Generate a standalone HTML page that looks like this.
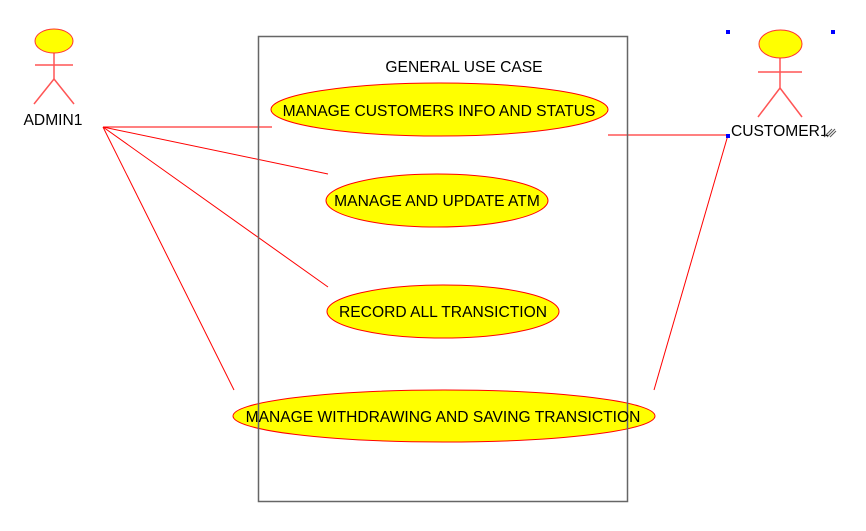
<!DOCTYPE html>
<html><head><style>
html,body{margin:0;padding:0;background:#fff;}
svg{display:block;}
text{font-family:"Liberation Sans",Arial,sans-serif;font-size:15.6px;fill:#000;}
</style></head><body>
<svg width="866" height="531" viewBox="0 0 866 531" xmlns="http://www.w3.org/2000/svg">
<g stroke="#f00" stroke-width="1" fill="none">
<line x1="103" y1="127" x2="272" y2="127"/>
<line x1="103" y1="127" x2="328" y2="174"/>
<line x1="103" y1="127" x2="328" y2="287"/>
<line x1="103" y1="127" x2="234" y2="390"/>
<line x1="608" y1="135" x2="728" y2="135"/>
<line x1="728" y1="135" x2="654" y2="390"/>
</g>
<g fill="#ff0" stroke="#f00" stroke-width="1">
<ellipse cx="439.5" cy="109.5" rx="168.5" ry="26.5"/>
<ellipse cx="437" cy="200.5" rx="111" ry="26.5"/>
<ellipse cx="443" cy="311.5" rx="116" ry="26.5"/>
<ellipse cx="444" cy="416" rx="211" ry="26"/>
</g>
<rect x="258.5" y="36.5" width="369" height="465" fill="none" stroke="#666" stroke-width="1.5"/>
<text x="464" y="72" text-anchor="middle">GENERAL USE CASE</text>
<text x="439" y="116" text-anchor="middle">MANAGE CUSTOMERS INFO AND STATUS</text>
<text x="437" y="206" text-anchor="middle">MANAGE AND UPDATE ATM</text>
<text x="443" y="317" text-anchor="middle">RECORD ALL TRANSICTION</text>
<text x="443" y="422" text-anchor="middle">MANAGE WITHDRAWING AND SAVING TRANSICTION</text>
<g stroke="#f55" stroke-width="1.5" fill="none">
<line x1="54" y1="53" x2="54" y2="79"/>
<line x1="35" y1="65" x2="73" y2="65"/>
<line x1="54" y1="79" x2="34" y2="104"/>
<line x1="54" y1="79" x2="74" y2="104"/>
<line x1="780" y1="58" x2="780" y2="88"/>
<line x1="758" y1="72" x2="802" y2="72"/>
<line x1="780" y1="88" x2="758" y2="117"/>
<line x1="780" y1="88" x2="802" y2="117"/>
</g>
<ellipse cx="54" cy="41" rx="19" ry="12" fill="#ff0" stroke="#f33"/>
<ellipse cx="780.5" cy="44" rx="21.5" ry="14" fill="#ff0" stroke="#f33"/>
<text x="53" y="125" text-anchor="middle">ADMIN1</text>
<text x="731" y="136">CUSTOMER1</text>
<g stroke="#555" stroke-width="1">
<line x1="824" y1="137" x2="832" y2="129"/>
<line x1="827" y1="137" x2="835" y2="129"/>
<line x1="830" y1="137" x2="836" y2="131"/>
</g>
<g fill="#00f">
<rect x="726" y="30" width="4" height="4"/>
<rect x="831" y="30" width="4" height="4"/>
<rect x="726" y="134" width="4" height="4"/>
</g>
</svg>
</body></html>
